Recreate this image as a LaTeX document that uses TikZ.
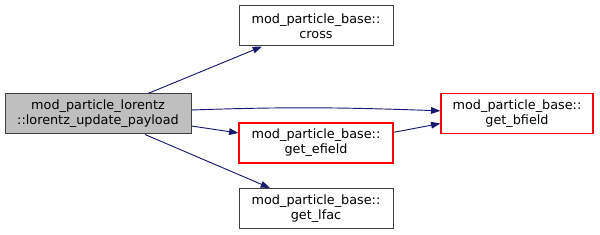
\documentclass[tikz,border=0pt]{standalone}
\usepackage{fontspec}
\setmainfont{DejaVu Sans}
\usetikzlibrary{arrows.meta,positioning}
\definecolor{edgeblue}{HTML}{191970}
\definecolor{boxgray}{HTML}{404040}
\tikzset{
  fn/.style={draw=boxgray, line width=0.75pt, rectangle, align=center, font=\fontsize{9.6}{11.3}\selectfont, minimum width=115.5pt, minimum height=30pt, inner sep=1pt, fill=white},
  cur/.style={fn, fill=black!25, minimum width=139.5pt},
  undoc/.style={fn, draw=red, line width=0.9pt},
  arr/.style={-{Triangle[length=7pt, width=5pt]}, color=edgeblue, line width=0.7pt},
}
\begin{document}
\begin{tikzpicture}[x=0.75pt,y=-0.75pt]
\useasboundingbox (0,0) rectangle (600,235);
\node[cur] (upd) at (98,114) {mod\_particle\_lorentz\\::lorentz\_update\_payload};
\node[fn] (crs) at (316,26) {mod\_particle\_base::\\cross};
\node[undoc] (efl) at (316,143) {mod\_particle\_base::\\get\_efield};
\node[undoc, minimum width=114pt] (bfl) at (517,113.5) {mod\_particle\_base::\\get\_bfield};
\node[fn] (lfc) at (316,208.5) {mod\_particle\_base::\\get\_lfac};
\draw[arr] (upd.north) ++(50,0) coordinate (u1) (u1) -- (crs.south -| 262,0);
\draw[arr] ([yshift=3pt]upd.east) to[out=2, in=178] ([yshift=2pt]bfl.west);
\draw[arr] ([yshift=-9pt]upd.east) -- ([yshift=7.5pt]efl.west);
\draw[arr] ([yshift=8pt]efl.east) -- ([yshift=-7.5pt]bfl.west);
\draw[arr] (upd.south) ++(47,0) coordinate (u2) (u2) -- (lfc.north -| 270,0);
\end{tikzpicture}
\end{document}
